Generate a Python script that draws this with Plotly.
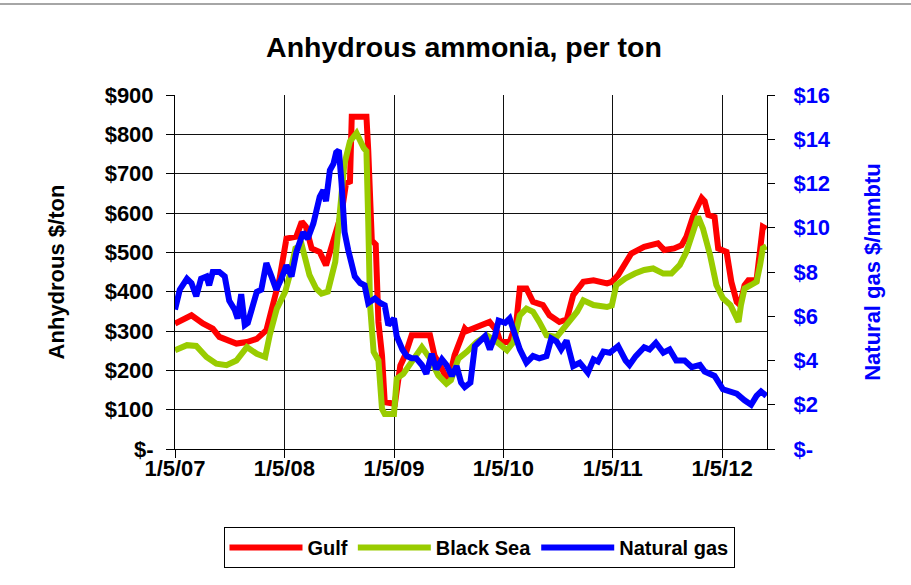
import plotly.graph_objects as go

# Gulf ammonia, $/ton
gulf_dates = [
    "2007-01-05", "2007-03-01", "2007-04-08", "2007-05-11", "2007-06-02", "2007-07-05",
    "2007-07-29", "2007-09-02", "2007-10-05", "2007-11-06", "2007-11-29", "2007-12-20",
    "2008-01-12", "2008-02-14", "2008-03-03", "2008-03-17", "2008-04-05", "2008-05-02",
    "2008-05-23", "2008-06-17", "2008-07-14", "2008-07-29", "2008-08-11", "2008-08-17",
    "2008-10-05", "2008-10-11", "2008-10-23", "2008-11-05", "2008-11-11", "2008-11-14",
    "2008-11-26", "2008-12-05", "2009-01-08", "2009-01-20", "2009-01-26", "2009-02-11",
    "2009-03-05", "2009-05-05", "2009-05-20", "2009-06-14", "2009-07-05", "2009-07-26",
    "2009-08-20", "2009-08-29", "2009-09-05", "2009-10-20", "2009-11-20", "2009-12-14",
    "2009-12-26", "2010-01-26", "2010-02-17", "2010-03-01", "2010-03-23", "2010-04-14",
    "2010-05-17", "2010-06-08", "2010-07-11", "2010-08-05", "2010-08-26", "2010-09-29",
    "2010-11-02", "2010-12-17", "2011-01-02", "2011-01-23", "2011-02-17", "2011-03-08",
    "2011-04-20", "2011-06-05", "2011-06-26", "2011-07-29", "2011-08-23", "2011-09-08",
    "2011-10-02", "2011-10-29", "2011-11-08", "2011-11-20", "2011-12-11", "2011-12-23",
    "2012-01-20", "2012-02-05", "2012-02-23", "2012-03-05", "2012-03-20", "2012-04-02",
    "2012-04-29", "2012-05-11", "2012-05-20", "2012-06-01",
]
gulf = [
    319, 340, 319, 306, 285, 276,
    268, 272, 280, 302, 374, 433,
    535, 540, 578, 565, 510, 501,
    467, 527, 600, 676, 680, 845,
    845, 760, 530, 520, 400, 323,
    238, 119, 115, 200, 212, 238,
    289, 289, 238, 204, 170, 238,
    297, 306, 300, 315, 323, 300,
    272, 272, 320, 408, 408, 374,
    366, 340, 323, 330, 391, 425,
    429, 421, 425, 442, 476, 497,
    514, 523, 506, 510, 518, 540,
    595, 638, 630, 595, 590, 510,
    501, 425, 374, 366, 416, 429,
    429, 510, 565, 560,
]

# Black Sea ammonia, $/ton
bsea_dates = [
    "2007-01-05", "2007-02-14", "2007-03-17", "2007-04-20", "2007-05-23", "2007-06-26",
    "2007-07-29", "2007-09-02", "2007-10-05", "2007-11-02", "2007-11-17", "2007-12-11",
    "2008-01-08", "2008-01-23", "2008-02-11", "2008-03-03", "2008-03-29", "2008-04-20",
    "2008-05-08", "2008-05-29", "2008-06-23", "2008-07-08", "2008-07-23", "2008-08-11",
    "2008-09-02", "2008-09-26", "2008-10-05", "2008-10-11", "2008-10-17", "2008-10-29",
    "2008-11-14", "2008-11-26", "2008-12-05", "2009-01-05", "2009-01-14", "2009-02-05",
    "2009-03-05", "2009-04-08", "2009-05-05", "2009-06-02", "2009-06-29", "2009-07-14",
    "2009-08-08", "2009-09-05", "2009-10-08", "2009-11-11", "2009-12-14", "2010-01-17",
    "2010-02-08", "2010-03-01", "2010-03-23", "2010-04-14", "2010-05-05", "2010-05-29",
    "2010-07-02", "2010-08-05", "2010-09-08", "2010-09-29", "2010-11-02", "2010-12-17",
    "2011-01-02", "2011-01-17", "2011-02-17", "2011-03-20", "2011-04-20", "2011-05-20",
    "2011-06-23", "2011-07-20", "2011-08-17", "2011-09-08", "2011-10-02", "2011-10-17",
    "2011-11-02", "2011-11-26", "2011-12-17", "2012-01-08", "2012-02-02", "2012-02-17",
    "2012-02-29", "2012-03-08", "2012-03-20", "2012-04-11", "2012-04-29", "2012-05-11",
    "2012-05-20", "2012-06-01",
]
bsea = [
    251, 264, 262, 234, 217, 213,
    225, 259, 242, 234, 289, 357,
    400, 442, 510, 519, 442, 408,
    395, 400, 476, 587, 723, 782,
    803, 765, 757, 578, 366, 247,
    225, 102, 89, 89, 179, 191,
    221, 259, 230, 187, 166, 175,
    230, 247, 272, 289, 272, 251,
    272, 340, 357, 349, 323, 289,
    285, 315, 349, 378, 366, 361,
    365, 417, 434, 446, 455, 459,
    446, 446, 468, 501, 561, 591,
    561, 493, 417, 383, 366, 340,
    323, 366, 408, 417, 425, 468,
    510, 515,
]

# Henry Hub natural gas, $/mmbtu
gas_dates = [
    "2007-01-05", "2007-01-21", "2007-02-14", "2007-03-01", "2007-03-17", "2007-04-02",
    "2007-04-20", "2007-04-29", "2007-05-11", "2007-06-02", "2007-06-20", "2007-07-05",
    "2007-07-23", "2007-08-02", "2007-08-14", "2007-08-26", "2007-09-05", "2007-09-17",
    "2007-10-05", "2007-10-20", "2007-11-06", "2007-11-23", "2007-12-09", "2007-12-26",
    "2008-01-12", "2008-01-29", "2008-02-14", "2008-03-08", "2008-03-23", "2008-04-11",
    "2008-04-26", "2008-05-02", "2008-05-14", "2008-05-23", "2008-06-05", "2008-06-17",
    "2008-06-26", "2008-07-05", "2008-07-14", "2008-07-24", "2008-08-05", "2008-08-17",
    "2008-08-27", "2008-09-14", "2008-09-29", "2008-10-11", "2008-11-02", "2008-11-20",
    "2008-12-05", "2008-12-17", "2009-01-05", "2009-01-14", "2009-02-02", "2009-02-17",
    "2009-03-05", "2009-03-20", "2009-04-08", "2009-04-23", "2009-05-11", "2009-05-26",
    "2009-06-14", "2009-06-29", "2009-07-17", "2009-08-02", "2009-08-17", "2009-08-29",
    "2009-09-17", "2009-10-02", "2009-10-20", "2009-11-05", "2009-11-21", "2009-12-08",
    "2009-12-20", "2010-01-11", "2010-01-26", "2010-02-14", "2010-03-01", "2010-03-23",
    "2010-04-14", "2010-05-05", "2010-05-29", "2010-06-14", "2010-07-02", "2010-07-17",
    "2010-08-04", "2010-08-26", "2010-09-17", "2010-10-14", "2010-11-02", "2010-11-17",
    "2010-12-05", "2010-12-26", "2011-01-23", "2011-02-17", "2011-03-02", "2011-03-23",
    "2011-04-20", "2011-05-08", "2011-05-29", "2011-06-23", "2011-07-14", "2011-08-05",
    "2011-09-02", "2011-09-26", "2011-10-23", "2011-11-08", "2011-12-11", "2012-01-08",
    "2012-02-02", "2012-02-23", "2012-03-20", "2012-04-11", "2012-04-29", "2012-05-14",
    "2012-06-01",
]
gas = [
    6.3, 7.2, 7.7, 7.5, 6.9, 7.7,
    7.8, 7.4, 8.0, 8.0, 7.8, 6.7,
    6.3, 5.9, 7.0, 5.6, 5.7, 6.3,
    7.1, 7.2, 8.4, 7.8, 7.2, 7.7,
    8.3, 7.8, 8.9, 9.8, 9.5, 10.2,
    11.1, 11.4, 11.7, 11.2, 12.6, 12.9,
    13.4, 13.5, 12.0, 9.8, 9.0, 8.3,
    7.8, 7.5, 7.4, 6.6, 6.8, 6.6,
    6.5, 5.6, 5.9, 5.1, 4.5, 4.2,
    4.1, 4.1, 3.8, 3.4, 4.3, 3.6,
    4.05, 3.8, 3.3, 3.75, 3.0, 2.8,
    3.0, 4.65, 4.9, 5.1, 4.5, 5.1,
    5.8, 5.7, 5.9, 5.1, 4.5, 3.9,
    4.2, 4.1, 4.2, 5.0, 4.85, 4.5,
    4.9, 3.75, 3.9, 3.45, 4.05, 3.95,
    4.4, 4.35, 4.65, 4.0, 3.8, 4.2,
    4.6, 4.5, 4.8, 4.35, 4.5, 4.0,
    4.0, 3.7, 3.8, 3.5, 3.3, 2.7,
    2.6, 2.5, 2.2, 2.0, 2.4, 2.6,
    2.4,
]

# axis ticks
x_tickvals = ["2007-01-05", "2008-01-05", "2009-01-05", "2010-01-05", "2011-01-05", "2012-01-05"]
x_ticktext = ["1/5/07", "1/5/08", "1/5/09", "1/5/10", "1/5/11", "1/5/12"]
left_tickvals = [0, 100, 200, 300, 400, 500, 600, 700, 800, 900]
left_ticktext = ["$-", "$100", "$200", "$300", "$400", "$500", "$600", "$700", "$800", "$900"]
right_tickvals = [0, 2, 4, 6, 8, 10, 12, 14, 16]
right_ticktext = ["$-", "$2", "$4", "$6", "$8", "$10", "$12", "$14", "$16"]

FONT = "Liberation Sans, Arial, sans-serif"
GRID = "#111111"
BLUE = "#0000ff"

fig = go.Figure()
fig.add_trace(go.Scatter(x=gulf_dates, y=gulf, name="Gulf", mode="lines",
                         line=dict(color="#ff0000", width=6)))
fig.add_trace(go.Scatter(x=bsea_dates, y=bsea, name="Black Sea", mode="lines",
                         line=dict(color="#99cc00", width=6)))
fig.add_trace(go.Scatter(x=gas_dates, y=gas, name="Natural gas", mode="lines",
                         line=dict(color=BLUE, width=6), yaxis="y2"))

fig.update_layout(
    width=911, height=585,
    margin=dict(l=175, r=144, t=95, b=136),
    paper_bgcolor="white", plot_bgcolor="white",
    font=dict(family=FONT, color="black"),
    title=dict(text="Anhydrous ammonia, per ton", x=464 / 911, xref="container",
               xanchor="center", y=1 - 47 / 585, yanchor="middle",
               font=dict(size=28.5, weight="bold", color="black")),
    xaxis=dict(type="date", range=["2007-01-05", "2012-06-03"],
               tickvals=x_tickvals, ticktext=x_ticktext,
               tickfont=dict(size=22, weight="bold"),
               showgrid=True, gridcolor=GRID, gridwidth=1,
               showline=True, linecolor="black", linewidth=1,
               ticks="outside", ticklen=8, tickcolor="black", zeroline=False,
               ticklabelstandoff=-8),
    yaxis=dict(range=[0, 900], tickvals=left_tickvals, ticktext=left_ticktext,
               tickfont=dict(size=22, weight="bold"),
               title=dict(text="Anhydrous $/ton", standoff=33,
                          font=dict(size=22, weight="bold")),
               showgrid=True, gridcolor=GRID, gridwidth=1,
               showline=True, linecolor="black", linewidth=1,
               ticks="outside", ticklen=8, tickcolor="black", zeroline=False,
               ticklabelstandoff=8),
    yaxis2=dict(range=[0, 16], overlaying="y", side="right",
                tickvals=right_tickvals, ticktext=right_ticktext,
                tickfont=dict(size=22, weight="bold", color=BLUE),
                title=dict(text="Natural gas $/mmbtu", standoff=34,
                           font=dict(size=22, weight="bold", color=BLUE)),
                showgrid=False, showline=True, linecolor="black", linewidth=1,
                ticks="outside", ticklen=7, tickcolor="black", zeroline=False,
                ticklabelstandoff=14),
    # inner half of the crossing ticks on the gas axis
    yaxis3=dict(range=[0, 16], overlaying="y", side="right", anchor="x",
                tickvals=right_tickvals, showticklabels=False,
                showgrid=False, showline=False, zeroline=False,
                ticks="inside", ticklen=6, tickcolor="black"),
    legend=dict(orientation="h", x=479 / 911, xref="container", xanchor="center",
                y=1 - 527 / 585, yref="container", yanchor="top",
                bordercolor="black", borderwidth=1,
                font=dict(size=20, weight="bold"), itemwidth=73,
                traceorder="normal"),
    showlegend=True,
    shapes=[dict(type="line", xref="paper", yref="paper", x0=-0.3, x1=1.25,
                 y0=1 + 91 / 354, y1=1 + 91 / 354,
                 line=dict(color="#a6a6a6", width=2))],
)

# the page body default margin would shift the whole chart by 8px
fig.write_html("out.html", config={"displayModeBar": False},
               post_script="document.body.style.margin='0px';")
